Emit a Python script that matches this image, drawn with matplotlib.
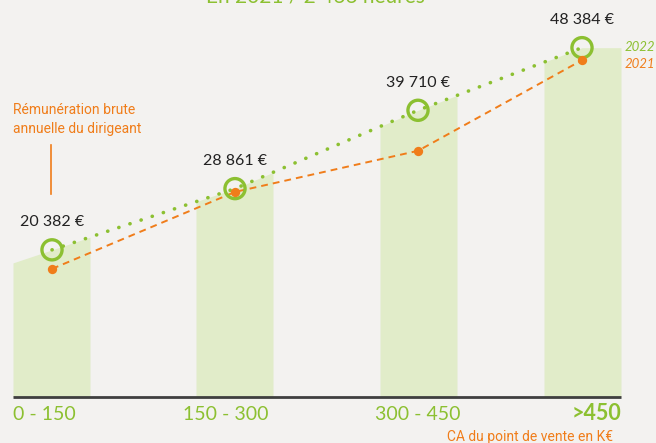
import numpy as np
import matplotlib.pyplot as plt

# data
categories = ['0 - 150', '150 - 300', '300 - 450', '>450']
values_2022 = [20382, 28861, 39710, 48384]
values_2021 = [17750, 28400, 34100, 46650]
labels_2022 = ['20 382 €', '28 861 €', '39 710 €', '48 384 €']

# layout (pixels)
W, H = 656, 443
xpos = [52, 235, 418, 582]
bar_l = [13, 196, 380, 544]
bar_w = 77
BASE = 397          # pixel row of zero
K = 0.00722         # pixels per euro

GREEN = '#8cc031'
ORANGE = '#f07d1a'
BARC = '#e1ecc9'
BG = '#f3f2f0'

fig = plt.figure(figsize=(W / 100, H / 100), dpi=100)
fig.patch.set_facecolor(BG)

ax = fig.add_axes([0, 0, 1, 1])
ax.set_facecolor(BG)
ax.set_xlim(0, W)
ax.set_ylim((BASE - H) / K, BASE / K)
ax.axis('off')

# bars with slanted tops following the 2022 line
slope0 = (values_2022[1] - values_2022[0]) / (xpos[1] - xpos[0])
def top(x):
  x = np.asarray(x, dtype=float)
  t = np.interp(x, xpos, values_2022)
  left = x < xpos[0]
  t[left] = values_2022[0] + slope0 * (x[left] - xpos[0])
  return t

for l in bar_l:
  xs = np.linspace(l, l + bar_w, 50)
  ax.fill_between(xs, 0, top(xs), color=BARC, lw=0, zorder=1)

ax.plot([13, 621], [0, 0], color='#3f3f3f', lw=2, zorder=2, solid_capstyle='butt')

# lines
ax.plot(xpos, values_2022, color=GREEN, lw=2.6, linestyle=(0, (0.05, 3.2)),
        dash_capstyle='round', zorder=3)
ax.plot(xpos, values_2021, color=ORANGE, lw=1.4, linestyle=(0, (3.5, 2.6)), zorder=3)
ax.scatter(xpos, values_2022, s=210, facecolors='none', edgecolors=GREEN,
           linewidths=2.4, zorder=4)
ax.scatter(xpos, values_2021, s=45, color=ORANGE, zorder=5, lw=0)

for x, v, lab in zip(xpos, values_2022, labels_2022):
  ax.annotate(lab, (x, v), xytext=(0, 20), textcoords='offset points',
              ha='center', va='center', fontsize=11.5, color='#222222',
              family='Lato')

# overlay in pixel coordinates for text
tx = fig.add_axes([0, 0, 1, 1])
tx.set_xlim(0, W)
tx.set_ylim(H, 0)
tx.axis('off')
tx.patch.set_alpha(0)

tx.text(315, 2.5, 'En 2021 / 2 466 heures', ha='center', va='baseline',
        fontsize=15, color=GREEN, family='Lato')

cond = dict(family='Roboto')
tx.text(13, 110, 'Rémunération brute', ha='left', va='center', fontsize=10,
        color=ORANGE, **cond)
tx.text(13, 129, 'annuelle du dirigeant', ha='left', va='center', fontsize=10,
        color=ORANGE, **cond)
tx.plot([51, 51], [145, 194], color=ORANGE, lw=1.2)

tx.text(625, 47, '2022', ha='left', va='center', fontsize=9.5, style='italic',
        color=GREEN, family='Lato')
tx.text(625, 64, '2021', ha='left', va='center', fontsize=9.5, style='italic',
        color=ORANGE, family='Lato')

tx.text(13, 414, categories[0], ha='left', va='center', fontsize=14,
        color=GREEN, family='Lato')
tx.text(226, 414, categories[1], ha='center', va='center', fontsize=14,
        color=GREEN, family='Lato')
tx.text(418, 414, categories[2], ha='center', va='center', fontsize=14,
        color=GREEN, family='Lato')
tx.text(621, 414, categories[3], ha='right', va='center', fontsize=15.5,
        color=GREEN, family='Lato', fontweight='bold')

tx.text(613, 437, 'CA du point de vente en K€', ha='right', va='center',
        fontsize=10, color=ORANGE, **cond)

fig.savefig('out.png', dpi=100, facecolor=BG)
